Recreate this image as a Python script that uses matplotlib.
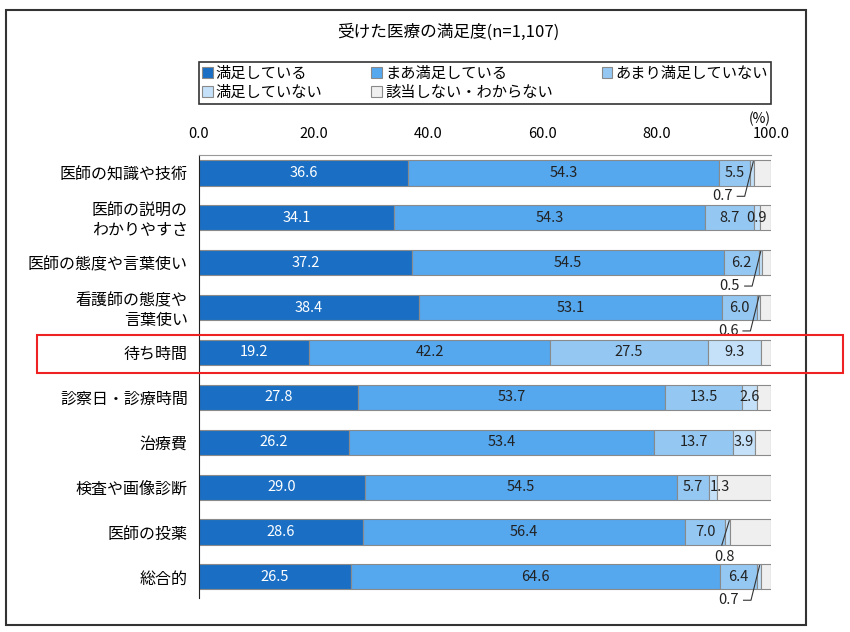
import numpy as np
import matplotlib
matplotlib.use("Agg")
import matplotlib.pyplot as plt
from matplotlib.patches import Rectangle

plt.rcParams['font.family'] = ['Noto Sans CJK JP', 'DejaVu Sans']

items = ["医師の知識や技術", "医師の説明の\nわかりやすさ", "医師の態度や言葉使い",
         "看護師の態度や\n言葉使い", "待ち時間", "診察日・診療時間", "治療費",
         "検査や画像診断", "医師の投薬", "総合的"]
series = ["満足している", "まあ満足している", "あまり満足していない",
          "満足していない", "該当しない・わからない"]
manzoku = [36.6, 34.1, 37.2, 38.4, 19.2, 27.8, 26.2, 29.0, 28.6, 26.5]
maa = [54.3, 54.3, 54.5, 53.1, 42.2, 53.7, 53.4, 54.5, 56.4, 64.6]
amari = [5.5, 8.7, 6.2, 6.0, 27.5, 13.5, 13.7, 5.7, 7.0, 6.4]
fuman = [0.7, 0.9, 0.5, 0.6, 9.3, 2.6, 3.9, 1.3, 0.8, 0.7]
gaitou = [round(100 - a - b - c - d, 1) for a, b, c, d in zip(manzoku, maa, amari, fuman)]
colors = ["#1a6fc4", "#55a7ee", "#94c8f3", "#c4e1f9", "#efefef"]

# small "満足していない" values that get a leader line below the bar
side_rows = [0, 2, 3, 9]
under_rows = [8]

fig = plt.figure(figsize=(8.5, 6.32), dpi=100)
ax = fig.add_axes([199/850, 1-598/632, 572/850, 443/632])

data = [manzoku, maa, amari, fuman, gaitou]
y = np.arange(len(items))
left = np.zeros(len(items))
for k, vals in enumerate(data):
    vals = np.array(vals)
    ax.barh(y, vals, left=left, height=0.56, color=colors[k],
            edgecolor="#8a8a8a", linewidth=0.8, label=series[k])
    if k < 4:
        for i, v in enumerate(vals):
            cx = left[i] + v / 2
            if k == 3 and i in side_rows:
                sx = left[i] + v
                ly = y[i] + 0.52
                ax.plot([sx - 0.2, sx - 1.7, sx - 3.0], [y[i] - 0.25, ly, ly],
                        color="#333333", lw=0.8, clip_on=False)
                ax.text(sx - 3.8, ly, f"{v:.1f}", ha="right", va="center",
                        fontsize=10.5, color="#222222")
                continue
            if k == 3 and i in under_rows:
                sx = left[i] + v / 2
                ax.plot([sx - 1.0, sx + 0.3], [y[i] + 0.29, y[i] - 0.25],
                        color="#333333", lw=0.8)
                ax.text(sx - 0.6, y[i] + 0.56, f"{v:.1f}", ha="center", va="center",
                        fontsize=10.5, color="#222222")
                continue
            if k == 3 and i == 7:
                cx = left[i] + 1.8
            ax.text(cx, y[i], f"{v:.1f}", ha="center", va="center", fontsize=10.5,
                    color="white" if k == 0 else "#222222")
    left += vals

ax.set_xlim(0, 100)
ax.set_ylim(9.47, -0.4)
ax.set_xticks(np.arange(0, 101, 20))
ax.set_xticklabels([f"{t:.1f}" for t in np.arange(0, 101, 20)], fontsize=10.5)
ax.xaxis.tick_top()
ax.tick_params(axis="x", length=0, pad=10)
ax.tick_params(axis="y", length=0, pad=8)
ax.set_yticks(y)
ax.set_yticklabels(items, fontsize=11.5)
for s in ["right", "bottom"]:
    ax.spines[s].set_visible(False)
ax.spines["left"].set_color("#222222")
ax.spines["top"].set_color("#999999")
ax.spines["top"].set_linewidth(0.8)

ax.text(100, -1.05, "(%)", ha="right", va="bottom", fontsize=10)

fig.text(448/850, 1-32/632, "受けた医療の満足度(n=1,107)", ha="center", va="center", fontsize=12)

# reorder so the legend fills row by row
handles, labels = ax.get_legend_handles_labels()
order = [0, 3, 1, 4, 2]
leg = fig.legend([handles[j] for j in order], [labels[j] for j in order],
                 loc="upper left", bbox_to_anchor=(199/850, 1-107/632, 572/850, 45/632),
                 mode="expand", ncol=3, fontsize=11, frameon=True, fancybox=False,
                 handlelength=0.7, handleheight=0.7, handletextpad=0.2,
                 borderpad=0.2, labelspacing=0.1, borderaxespad=0, columnspacing=1)
leg.get_frame().set_edgecolor("black")
leg.get_frame().set_linewidth(1.2)

# outer frame and red highlight box
fig.patches.append(Rectangle((6/850, 1-625/632), 800/850, 615/632, transform=fig.transFigure,
                             fill=False, edgecolor="#333333", linewidth=1.5))
fig.patches.append(Rectangle((37/850, 1-373/632), 806/850, 38/632, transform=fig.transFigure,
                             fill=False, edgecolor="#ee2222", linewidth=1.5, zorder=10))

fig.savefig("out.png", dpi=100)
